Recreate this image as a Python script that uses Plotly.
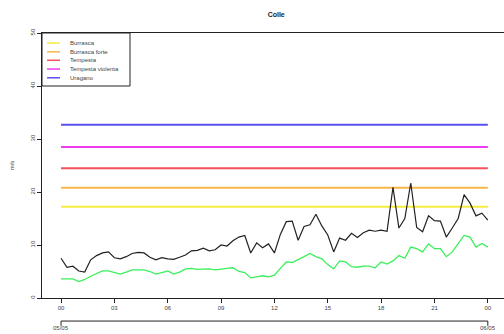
import plotly.graph_objects as go

# time in hours (20-minute readings, 05/05 00:00 -> 06/05 00:00)
hours = [i / 3 for i in range(73)]

gust = [7.5, 5.8, 6.0, 5.1, 4.9, 7.2, 8.0, 8.5, 8.7, 7.6,
        7.4, 7.8, 8.4, 8.6, 8.5, 7.7, 7.2, 7.6, 7.4, 7.3,
        7.7, 8.1, 8.9, 9.0, 9.4, 8.9, 9.1, 10.0, 9.8, 10.8,
        11.5, 11.8, 8.5, 10.4, 9.5, 10.2, 8.5, 12.0, 14.4, 14.5,
        10.9, 13.5, 13.8, 15.8, 13.6, 11.9, 8.7, 11.3, 10.9, 12.2,
        11.4, 12.3, 12.8, 12.6, 12.8, 12.6, 20.9, 13.2, 15.0, 21.7,
        13.3, 12.5, 15.5, 14.6, 14.5, 11.5, 13.2, 15.0, 19.5, 17.9,
        15.5, 16.0, 14.7]

mean = [3.6, 3.6, 3.6, 3.1, 3.5, 4.1, 4.6, 5.1, 5.1, 4.8,
        4.5, 4.9, 5.3, 5.3, 5.3, 5.0, 4.5, 4.8, 5.1, 4.5,
        4.9, 5.5, 5.6, 5.4, 5.4, 5.5, 5.3, 5.5, 5.6, 5.7,
        5.0, 4.8, 3.8, 4.0, 4.2, 4.0, 4.3, 5.6, 6.8, 6.7,
        7.2, 7.8, 8.4, 7.8, 7.4, 6.3, 5.5, 7.0, 6.8, 5.9,
        5.8, 6.0, 6.0, 5.7, 6.8, 6.4, 7.0, 8.0, 7.5, 9.6,
        9.3, 8.7, 10.2, 9.3, 9.3, 7.8, 8.7, 10.3, 11.8, 11.5,
        9.6, 10.3, 9.6]

threshold_names = ["Burrasca", "Burrasca forte", "Tempesta", "Tempesta violenta", "Uragano"]
threshold_values = [17.2, 20.8, 24.5, 28.5, 32.7]
threshold_colors = ["#f7ec3c", "#f8b648", "#f4505a", "#f03cf0", "#5a50f0"]

x_tick_vals = [0, 3, 6, 9, 12, 15, 18, 21, 24]
x_tick_text = ["00", "03", "06", "09", "12", "15", "18", "21", "00"]
y_tick_vals = [0, 10, 20, 30, 40, 50]
date_labels = ["05/05", "06/05"]

FONT = "Liberation Sans, Arial, sans-serif"
fig = go.Figure()

for name, val, col in zip(threshold_names, threshold_values, threshold_colors):
    fig.add_trace(go.Scatter(x=[hours[0], hours[-1]], y=[val, val], mode="lines",
                             line=dict(color=col, width=2), name=name, showlegend=False))

fig.add_trace(go.Scatter(x=hours, y=mean, mode="lines", showlegend=False,
                         line=dict(color="#3af05a", width=1.3)))
fig.add_trace(go.Scatter(x=hours, y=gust, mode="lines", showlegend=False,
                         line=dict(color="#222222", width=1.2)))

fig.update_layout(
    width=504, height=334,
    margin=dict(l=42, r=0, t=33, b=36),
    paper_bgcolor="white", plot_bgcolor="white",
    font=dict(family=FONT, size=6, color="#333"),
    title=dict(text="<b>Colle</b>", x=0.548, xanchor="center", y=0.955, yanchor="middle",
               font=dict(size=7, color="#222")),
    showlegend=False,
)
fig.update_xaxes(range=[-1.07, 24.91], tickvals=x_tick_vals, ticktext=x_tick_text,
                 ticks="outside", ticklen=4, tickcolor="#222", showline=True, linecolor="#222",
                 linewidth=1, mirror=True, showgrid=False, zeroline=False,
                 tickfont=dict(size=6, color="#444"))
fig.update_yaxes(range=[0, 50], tickvals=y_tick_vals, ticks="outside", ticklen=4,
                 tickcolor="#222", showline=True, linecolor="#222", linewidth=1,
                 showgrid=False, zeroline=False, tickangle=-90,
                 tickfont=dict(size=6, color="#444"),
                 title=dict(text="m/s", font=dict(size=6, color="#444"), standoff=14))

# manual legend box (top-left, as in the R plot)
fig.add_shape(type="rect", xref="paper", yref="paper", x0=0, x1=0.1905, y0=0.80, y1=1.0,
              line=dict(color="#222", width=1), fillcolor="white", layer="above")
entry_y = [0.962, 0.929, 0.897, 0.864, 0.831]
for name, col, ey in zip(threshold_names, threshold_colors, entry_y):
    fig.add_shape(type="line", xref="paper", yref="paper", x0=0.011, x1=0.039, y0=ey, y1=ey,
                  line=dict(color=col, width=1.5), layer="above")
    fig.add_annotation(x=0.056, y=ey, xref="paper", yref="paper", text=name, showarrow=False,
                       xanchor="left", yanchor="middle", font=dict(size=6, color="#444"))

# secondary date axis below
yb = -0.087
fig.add_shape(type="line", xref="x", yref="paper", x0=x_tick_vals[0], x1=x_tick_vals[-1],
              y0=yb, y1=yb, line=dict(color="#222", width=1))
for xv, lab in zip([x_tick_vals[0], x_tick_vals[-1]], date_labels):
    fig.add_shape(type="line", xref="x", yref="paper", x0=xv, x1=xv, y0=yb, y1=yb - 0.018,
                  line=dict(color="#222", width=1))
    fig.add_annotation(x=xv, y=-0.132, xref="x", yref="paper", text=lab, showarrow=False,
                       yanchor="bottom", xanchor="center", font=dict(size=6, color="#444"))

fig.write_html("out.html")
